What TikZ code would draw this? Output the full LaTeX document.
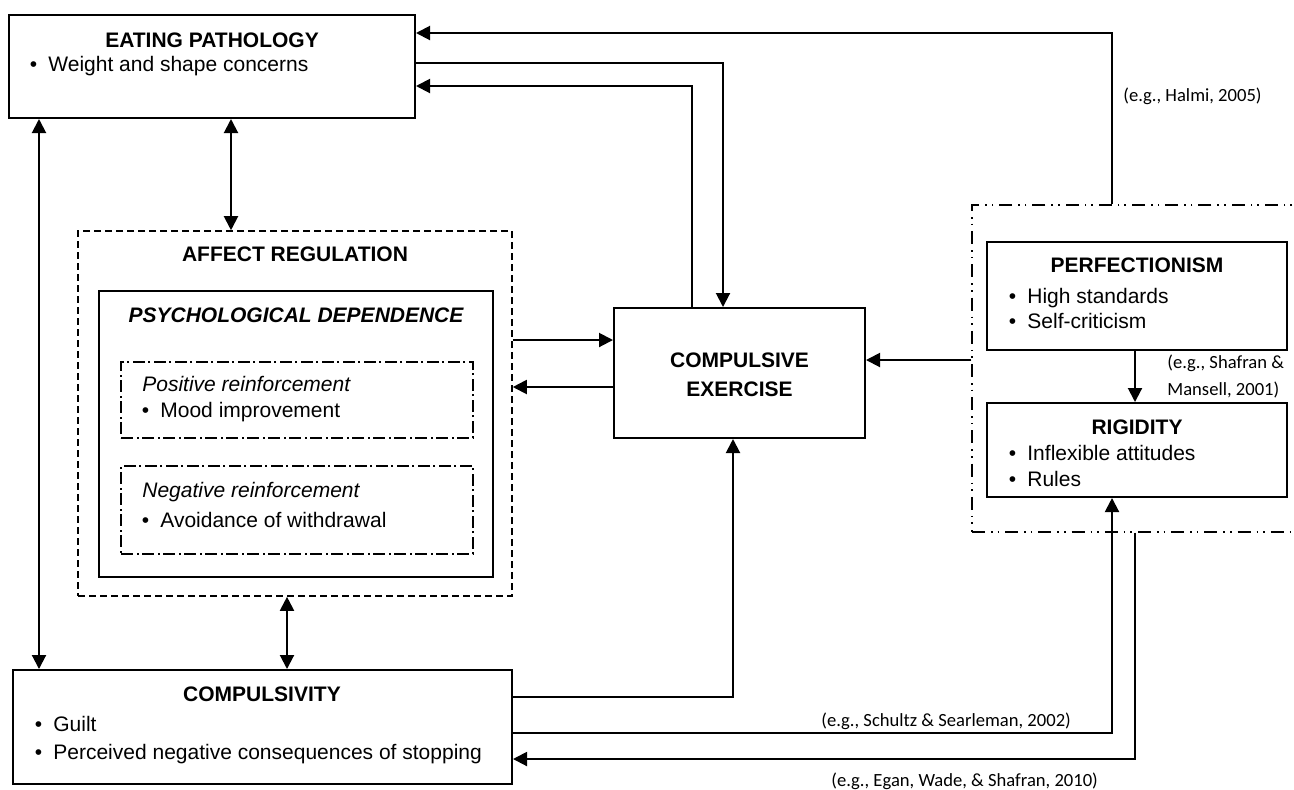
\documentclass[tikz,border=0pt]{standalone}
\usepackage{fontspec}
\setmainfont{Liberation Sans}
\newfontfamily\citefont{Carlito}
\usetikzlibrary{arrows.meta,fit}

\begin{document}
\begin{tikzpicture}[x=0.5pt,y=-0.5pt,
  every node/.style={font=\fontsize{10.5}{12.6}\selectfont},
  box/.style={draw, line width=1pt, inner sep=0pt},
  dashbox/.style={draw, line width=0.8pt, inner sep=0pt, dash pattern=on 3.5pt off 2pt},
  dotbox/.style={draw, line width=0.7pt, inner sep=0pt, dash pattern=on 6pt off 2pt on 0.8pt off 1.7pt},
  groupbox/.style={draw, line width=0.7pt, inner sep=0pt, dash pattern=on 6.5pt off 3pt on 0.8pt off 2.5pt on 0.8pt off 3pt},
  title/.style={anchor=base, inner sep=0pt, font=\fontsize{10.5}{12.6}\selectfont\bfseries},
  label/.style={anchor=base west, inner sep=0pt},
  item/.style={anchor=base west, inner sep=0pt, execute at begin node={\llap{•\hspace{5.6pt}}}},
  cite/.style={anchor=base west, inner sep=0pt, font=\fontsize{9.3}{11}\selectfont\citefont},
  arr/.style={line width=1pt, -{Triangle[length=7pt,width=7pt]}},
  darr/.style={line width=1pt, {Triangle[length=7pt,width=7pt]}-{Triangle[length=7pt,width=7pt]}}]
\useasboundingbox (0,0) rectangle (1294,789);
\clip (0,0) rectangle (1294,789);

% boxes
\node[box, fit={(9,15) (415,118)}] (ep) {};
\node[dashbox, fit={(78,231) (512,596)}] (ar) {};
\node[box, fit={(99,291) (493,577)}] (pd) {};
\node[dotbox, fit={(121,362) (473,438)}] (pr) {};
\node[dotbox, fit={(121,466) (473,554)}] (nr) {};
\node[box, fit={(614,308) (865,438)}] (ce) {};
\node[groupbox, fit={(972,205) (1310,532)}] (grp) {};
\node[box, fit={(987,242) (1287,350)}] (pf) {};
\node[box, fit={(987,403) (1287,497)}] (rg) {};
\node[box, fit={(13,670) (512,784)}] (cs) {};

% texts
\node[title] (ep-t) at (212,47) {EATING PATHOLOGY};
\node[item] (ep-1) at (48,71) {Weight and shape concerns};
\node[title] (ar-t) at (295,261) {AFFECT REGULATION};
\node[title, font=\fontsize{10.5}{12.6}\selectfont\bfseries\itshape] (pd-t) at (296,322) {PSYCHOLOGICAL DEPENDENCE};
\node[label, font=\fontsize{10.5}{12.6}\selectfont\itshape] (pr-t) at (142,391) {Positive reinforcement};
\node[item] (pr-1) at (160,417) {Mood improvement};
\node[label, font=\fontsize{10.5}{12.6}\selectfont\itshape] (nr-t) at (142,497) {Negative reinforcement};
\node[item] (nr-1) at (160,527) {Avoidance of withdrawal};
\node[title] (ce-t1) at (739.5,367) {COMPULSIVE};
\node[title] (ce-t2) at (739.5,396) {EXERCISE};
\node[title] (pf-t) at (1137,272) {PERFECTIONISM};
\node[item] (pf-1) at (1027,303) {High standards};
\node[item] (pf-2) at (1027,328) {Self-criticism};
\node[title] (rg-t) at (1137,434) {RIGIDITY};
\node[item] (rg-1) at (1027,460) {Inflexible attitudes};
\node[item] (rg-2) at (1027,486) {Rules};
\node[title] (cs-t) at (262,701) {COMPULSIVITY};
\node[item] (cs-1) at (53,731) {Guilt};
\node[item] (cs-2) at (53,759) {Perceived negative consequences of stopping};
\node[cite] (c1) at (1123,101) {(e.g., Halmi, 2005)};
\node[cite] (c2a) at (1167,368) {(e.g., Shafran \&};
\node[cite] (c2b) at (1167,395) {Mansell, 2001)};
\node[cite] (c3) at (821,726) {(e.g., Schultz \& Searleman, 2002)};
\node[cite] (c4) at (831,786) {(e.g., Egan, Wade, \& Shafran, 2010)};

% routing guides
\coordinate (y33) at (0,33);
\coordinate (y63) at (0,63);
\coordinate (y86) at (0,86);
\coordinate (y340) at (0,340);
\coordinate (y360) at (0,360);
\coordinate (y387) at (0,387);
\coordinate (y697) at (0,697);
\coordinate (y733) at (0,733);
\coordinate (y759) at (0,759);
\coordinate (x39) at (39,0);
\coordinate (x231) at (231,0);
\coordinate (x287) at (287,0);
\coordinate (x692) at (692,0);
\coordinate (x723) at (723,0);
\coordinate (x733) at (733,0);
\coordinate (x1112) at (1112,0);
\coordinate (x1135) at (1135,0);

% connectors
\draw[arr] (grp.north -| x1112) |- (ep.east |- y33);
\draw[arr] (ep.east |- y63) -| (ce.north -| x723);
\draw[arr] (ce.north -| x692) |- (ep.east |- y86);
\draw[darr] (ep.south -| x39) -- (cs.north -| x39);
\draw[darr] (ep.south -| x231) -- (ar.north -| x231);
\draw[darr] (ar.south -| x287) -- (cs.north -| x287);
\draw[arr] (ar.east |- y340) -- (ce.west |- y340);
\draw[arr] (ce.west |- y387) -- (ar.east |- y387);
\draw[arr] (grp.west |- y360) -- (ce.east |- y360);
\draw[arr] (pf.south -| x1135) -- (rg.north -| x1135);
\draw[arr] (cs.east |- y697) -| (ce.south -| x733);
\draw[arr] (cs.east |- y733) -| (rg.south -| x1112);
\draw[arr] (grp.south -| x1135) |- (cs.east |- y759);
\end{tikzpicture}
\end{document}
